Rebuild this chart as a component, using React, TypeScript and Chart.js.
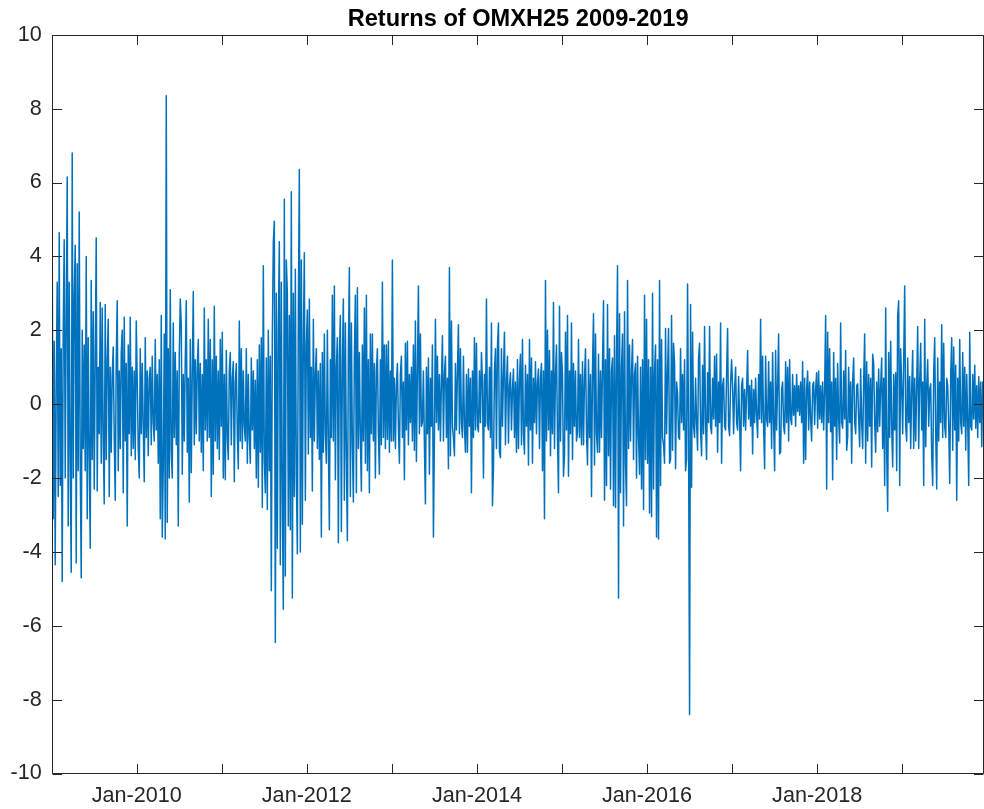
import React, { useEffect, useRef } from "react";
import { Chart, registerables } from "chart.js";

Chart.register(...registerables);

// Daily log-returns (%) of OMXH25 (≈ one value every few trading days)
const years = [2009, 2010, 2011, 2012, 2013, 2014, 2015, 2016, 2017, 2018, 2019];
const samplesPerYear = 85;

const ret2009 = [4.2, -3.1, 1.7, -4.35, 0.5, 3.3, -2.5, 4.65, -2.2, 1.5,
  -4.8, 2.0, 4.45, -2.0, 2.3, 6.15, -3.3, 3.3, -1.5, -4.55,
  6.8, -2.0, 2.9, 4.3, -4.3, 3.8, -1.8, 5.2, -1.5, -4.7,
  2.0, -1.2, 1.6, -1.8, 4.0, -3.1, 1.8, -1.3, -3.9, 3.35,
  -1.5, 2.5, -2.3, 1.2, 4.5, -2.35, 1.0, -0.8, 2.75, -1.6,
  2.6, -1.0, -2.7, 2.7, -1.5, 1.2, 2.3, -2.5, 1.0, -1.3,
  0.8, 1.55, -0.9, -2.6, 1.2, 2.8, -1.8, 0.9, -1.2, 1.4,
  2.0, -2.4, 2.35, -1.0, 1.1, -3.3, 1.6, -0.8, 2.35, -1.4,
  1.0, -1.2, 0.9, -1.5, 2.25];
const ret2010 = [0.6, -1.2, -2.0, 1.5, -0.8, 1.1, -0.6, -2.1, 1.8, -0.9,
  0.9, -1.4, 0.7, 1.0, -1.1, 1.3, -0.5, -1.0, 1.75, -0.7,
  0.8, -1.6, 1.2, -3.1, 2.4, -3.6, -1.7, 1.9, -3.65, 8.35,
  -3.2, 1.5, -2.0, 3.1, -1.3, -2.0, 2.2, -0.9, 1.4, -1.1,
  0.9, -3.3, 1.3, 2.85, 2.15, -1.9, 0.8, -1.0, 1.2, 2.8,
  -1.3, 0.7, -2.65, 1.75, -1.85, 0.9, 3.05, -1.1, 1.2, -0.8,
  1.0, 1.75, -1.0, 1.1, -1.3, 0.8, -1.8, 2.6, -0.7, 1.2,
  -1.0, 2.3, -0.9, 1.75, -2.5, 1.2, -1.9, 2.65, -1.0, 1.3,
  -1.2, 0.9, -1.5, 1.75, -0.6];
const ret2011 = [1.95, -2.0, 0.8, -2.05, 1.45, -0.9, -1.5, 0.9, 1.4, -1.1,
  0.7, 1.15, -2.1, 0.6, 1.1, -0.8, -1.75, 2.25, -1.0, 1.5,
  -1.2, 0.9, -0.6, -1.0, 1.5, -1.6, 0.8, -0.9, -1.6, 1.25,
  -0.7, 0.9, -1.2, 0.65, -2.0, 1.2, -2.25, 1.6, -1.3, 1.8,
  -2.8, 3.75, -1.5, -2.4, 1.25, -2.85, 2.0, -1.8, 1.3, -5.05,
  1.85, 4.4, 4.95, -6.45, 3.0, -3.9, 2.0, 4.4, -4.35, 3.3,
  -2.6, -5.55, 5.55, -4.65, 3.9, 3.0, -3.3, 2.4, -3.4, 5.75,
  -5.25, 3.0, -2.5, 3.65, -1.9, -4.05, 2.5, 6.35, -4.0, 3.9,
  -3.25, 1.8, 4.1, -2.6, 1.6];
const ret2012 = [2.55, -1.35, 2.85, -0.9, 1.0, -2.35, 2.3, -1.0, 0.8, 1.5,
  -1.2, 0.9, -1.5, 1.1, -3.6, 1.4, -1.3, 1.9, -0.8, -1.6,
  2.0, -1.0, -3.4, 1.2, -0.9, 2.95, -1.0, 3.2, -2.05, 1.0,
  1.8, -3.75, 1.3, 2.4, -3.45, 1.1, 2.85, -2.6, 2.2, -1.4,
  -3.7, 1.5, 3.7, -2.5, 2.2, -1.1, -2.65, 1.3, 2.95, -2.4,
  3.15, -1.2, 1.4, -0.9, -2.35, 1.6, -1.0, 2.6, -1.6, 2.95,
  -1.8, 1.2, -2.4, 1.9, -0.8, 1.9, -1.0, 1.1, -2.0, 0.9,
  1.5, -0.8, -1.9, 1.2, -1.1, 3.3, -0.9, 1.6, -1.2, 1.6,
  -0.95, 1.7, -1.3, 0.9, -1.0];
const ret2013 = [3.9, -1.0, 0.7, -1.2, 0.5, 1.1, -0.6, -1.6, 0.8, 1.3,
  -0.9, 0.6, -2.05, 1.65, -0.7, 1.7, -1.1, 0.8, -0.5, 1.0,
  -1.0, 1.6, -1.25, 2.25, -1.55, 0.9, 3.2, -0.8, 1.9, -0.6,
  -0.5, 0.9, -1.1, -2.7, 1.0, -0.8, 1.25, -1.9, 0.7, -0.6,
  1.6, -3.6, -0.9, 2.3, -0.5, 1.3, -0.7, 0.8, -1.0, 0.6,
  1.85, -1.0, 0.8, 1.3, -0.9, 0.7, -1.75, 3.7, -1.4, 2.25,
  -0.6, -0.9, -1.4, 1.1, -0.7, 0.9, 2.15, -0.8, 1.5, -0.5,
  -0.9, 1.3, -0.6, -1.3, 0.8, -1.3, 0.95, -0.6, 0.7, -2.4,
  0.9, -0.9, 1.8, -0.7, 1.65];
const ret2014 = [-0.6, -0.75, 0.9, -0.5, 1.4, 0.6, -2.0, 0.8, -0.6, 2.85,
  -0.5, -0.7, 1.0, -0.9, 2.2, -2.75, -1.75, 0.9, 1.5, -1.2,
  1.55, 2.2, -1.3, -1.45, 1.5, -0.6, 0.8, 1.95, -1.1, 0.6,
  1.3, -1.05, 0.5, 0.85, -0.7, 0.4, 0.95, -0.9, 0.6, -1.3,
  1.2, -1.2, 0.7, 1.35, -1.1, 1.75, -0.8, -1.35, 1.05, -0.6,
  0.8, -1.65, 1.75, -0.7, 1.25, -1.6, 0.7, -0.5, 1.15, -0.8,
  0.6, 0.95, -1.2, 0.7, 1.1, -1.8, 0.9, -3.1, 3.35, -1.0,
  2.0, -0.7, 1.45, -1.4, 0.9, -0.8, 2.75, -1.2, 0.8, 1.6,
  -0.9, -2.4, 2.65, -1.0, 1.4];
const ret2015 = [0.8, -1.95, -1.4, 1.95, -0.7, 2.4, -1.95, 0.9, -0.8, 2.2,
  -1.5, 1.1, -0.6, 0.9, -1.0, -0.75, 1.75, -0.9, 0.8, -1.1,
  1.15, -1.1, 0.7, 1.5, -0.8, -1.65, 1.2, -0.9, 0.8, -2.5,
  1.0, 2.45, -1.65, 1.9, -0.8, -1.3, 1.35, -1.3, 0.9, -0.9,
  1.1, 2.8, -2.6, 1.2, -2.2, 2.7, -1.4, 1.5, -2.3, 0.9,
  1.25, -2.75, 1.85, -2.8, 1.2, 3.75, -5.25, 2.45, -2.4, 1.0,
  1.9, -3.3, 2.5, -1.6, -2.75, 3.35, -1.2, 1.6, -1.0, 0.9,
  1.75, -1.5, 0.8, 1.1, -2.0, 1.3, -0.9, -1.9, 1.0, -2.3,
  1.2, -2.85, 2.95, -1.5, 2.3];
const ret2016 = [-1.6, 1.2, -2.95, 1.0, -3.05, 3.0, -2.3, 0.9, 1.6, -3.6,
  1.2, -3.65, 3.35, -2.2, 1.75, -0.9, -1.1, -1.6, 2.05, -0.8,
  0.9, 2.05, -1.6, -1.5, 2.4, -1.25, 1.65, 1.1, -1.75, 0.6,
  0.3, -0.9, -0.95, 1.5, -0.5, 0.8, -0.7, 1.2, -1.8, -1.5,
  3.25, -0.8, -8.4, 2.7, -2.25, 1.95, -0.6, -0.9, 0.7, -0.5,
  -1.25, 1.25, 1.65, -0.7, -1.4, 1.05, -0.8, 2.1, -0.5, -1.5,
  0.85, -0.5, 2.1, -0.6, -0.8, 0.7, -0.4, 1.3, -0.6, 1.35,
  -1.3, 0.6, -0.5, 2.2, -1.6, 0.5, 0.7, -0.6, -0.7, 0.8,
  2.05, -0.6, -0.85, 0.55, 1.2];
const ret2017 = [0.5, -0.8, 0.4, 1.0, -0.5, -0.7, 0.75, -0.4, -1.8, 0.5,
  0.7, -0.6, 0.4, -0.7, 0.3, 1.45, -0.4, 0.5, -0.6, 0.65,
  -1.35, 0.4, -0.5, 0.7, -0.3, -0.9, 0.8, -0.4, 2.3, -0.5,
  1.3, -0.6, -1.75, 1.3, -0.4, -0.6, 1.15, -0.5, 0.6, -1.2,
  1.4, -0.5, -1.8, 1.45, -0.7, 0.5, 1.9, -1.35, -1.3, 0.4,
  0.6, -0.6, -0.8, 1.15, -0.5, 1.0, -1.0, 1.2, -0.4, -0.55,
  0.8, -0.3, 0.5, -0.6, 0.8, -0.2, 0.5, -0.3, 0.6, -0.5,
  1.15, -1.6, 0.7, -1.5, 0.4, 0.9, -0.7, 0.6, -0.4, -1.0,
  0.5, 0.6, -0.55, 0.4, 0.85];
const ret2018 = [-0.65, 0.9, -0.4, 0.5, -0.5, 0.6, -0.7, 0.4, 2.4, -2.3,
  1.95, -0.5, 1.5, -0.75, 0.6, -2.05, 1.4, -0.6, 0.7, -1.5,
  1.1, -0.4, -1.05, 2.2, -0.5, -0.65, 0.9, -0.4, 1.45, -1.25,
  -0.9, 1.0, -0.5, 0.6, -1.6, 0.6, 1.25, -0.5, -0.8, 0.5,
  0.55, -0.4, -1.15, 0.95, -0.5, -1.2, 0.6, 1.9, -1.6, 1.15,
  -1.0, 0.8, -0.6, 0.7, -1.7, 1.35, 1.1, -0.5, -1.3, 0.6,
  -0.75, 0.95, -0.6, 0.5, 1.25, -1.2, 0.7, -2.2, 2.6, -1.3,
  -2.9, 1.4, -0.9, 1.7, -0.6, -1.7, 0.8, -0.7, 0.85, -1.8,
  2.4, 2.8, -2.2, 1.5, 0.5];
const ret2019 = [-0.8, 1.2, 3.2, -0.6, -1.0, 1.25, -0.5, 0.75, -1.2, 0.4,
  1.45, -1.2, 0.7, -1.0, 0.5, 2.1, -1.2, 0.6, 1.65, -0.7,
  0.6, -2.2, 2.3, -1.15, 0.5, 1.2, -0.6, 0.4, 0.55, -1.4,
  -2.2, 0.9, 1.8, -0.8, -2.3, 1.25, -1.0, 0.6, -0.5, 2.15,
  -0.9, 1.65, -0.6, -0.9, 0.7, 0.5, -0.6, -2.15, 0.8, 1.8,
  -1.25, 1.55, -0.7, 1.05, -2.6, 0.7, -1.0, 1.75, -0.5, -0.8,
  1.4, -0.6, 1.0, -1.25, 0.8, -0.5, -2.2, 1.95, -0.6, -0.7,
  0.8, -0.4, 1.05, -0.65, 0.5, -0.9, 0.75, -0.5, 0.6, -1.15,
  0.6, -0.3];

const returnsByYear = [ret2009, ret2010, ret2011, ret2012, ret2013, ret2014,
  ret2015, ret2016, ret2017, ret2018, ret2019];

const xStart = 2009.007;
const xEnd = 2019.962;
const yTicks = [-10, -8, -6, -4, -2, 0, 2, 4, 6, 8, 10];
const titleText = "Returns of OMXH25 2009-2019";

const FONT = '"Liberation Sans", Arial, Helvetica, sans-serif';
const AXIS_COLOR = "#262626";

const matlabAxes = {
  id: "matlabAxes",
  afterDatasetsDraw(chart: any) {
    const { ctx, chartArea, scales } = chart;
    const { left, right, top, bottom } = chartArea;
    const L = Math.round(left) + 0.5;
    const R = Math.round(right) - 0.5;
    const T = Math.round(top) + 0.5;
    const B = Math.round(bottom) - 0.5;
    const tl = 9.5;
    ctx.save();
    ctx.strokeStyle = AXIS_COLOR;
    ctx.lineWidth = 1;
    ctx.beginPath();
    ctx.moveTo(L, T); ctx.lineTo(R, T); ctx.lineTo(R, B); ctx.lineTo(L, B); ctx.closePath();
    ctx.stroke();
    ctx.beginPath();
    for (const t of scales.y.ticks) {
      const py = Math.round(scales.y.getPixelForValue(t.value)) + 0.5;
      ctx.moveTo(L, py); ctx.lineTo(L + tl, py);
      ctx.moveTo(R, py); ctx.lineTo(R - tl, py);
    }
    for (const t of scales.x.ticks) {
      const px = Math.round(scales.x.getPixelForValue(t.value)) + 0.5;
      ctx.moveTo(px, B); ctx.lineTo(px, B - tl);
      ctx.moveTo(px, T); ctx.lineTo(px, T + tl);
    }
    ctx.stroke();
    ctx.fillStyle = "#000";
    ctx.font = `bold 23.6px ${FONT}`;
    ctx.textAlign = "center";
    ctx.textBaseline = "alphabetic";
    ctx.fillText(titleText, (left + right) / 2, 26);
    ctx.restore();
  },
};

export default function App() {
  const ref = useRef<HTMLCanvasElement | null>(null);
  useEffect(() => {
    if (!ref.current) return;
    const points = years.flatMap((yr, k) =>
      returnsByYear[k].map((v, i) => ({ x: yr + (i + 0.5) / samplesPerYear, y: v }))
    );
    const chart = new Chart(ref.current, {
      type: "line",
      data: {
        datasets: [
          {
            data: points,
            borderColor: "#0072BD",
            borderWidth: 1.5,
            borderJoinStyle: "round",
            pointRadius: 0,
            fill: false,
            tension: 0,
          },
        ],
      },
      options: {
        animation: false,
        responsive: false,
        layout: { padding: { top: 34.8, right: 0, left: 0, bottom: 0 } },
        plugins: {
          legend: { display: false },
          tooltip: { enabled: false },
          title: { display: false },
        },
        scales: {
          x: {
            type: "linear",
            min: xStart,
            max: xEnd,
            grid: { display: false, drawTicks: false },
            border: { display: false },
            afterBuildTicks: (s: any) => {
              s.ticks = years.map((v) => ({ value: v }));
            },
            afterFit: (s: any) => {
              s.height = 35.5;
            },
            ticks: {
              autoSkip: false,
              maxRotation: 0,
              minRotation: 0,
              padding: 10,
              color: AXIS_COLOR,
              font: { family: FONT, size: 21.6 },
              callback: (v: any) => (Number(v) % 2 === 0 ? "Jan-" + v : ""),
            },
          },
          y: {
            type: "linear",
            min: -10,
            max: 10,
            grid: { display: false, drawTicks: false },
            border: { display: false },
            afterBuildTicks: (s: any) => {
              s.ticks = yTicks.map((v) => ({ value: v }));
            },
            afterFit: (s: any) => {
              s.width = 52.3;
            },
            ticks: {
              padding: 10.5,
              color: AXIS_COLOR,
              font: { family: FONT, size: 21.6 },
              callback: (v: any) => String(v),
            },
          },
        },
      },
      plugins: [matlabAxes],
    });
    return () => chart.destroy();
  }, []);
  return (
    <div style={{ position: "absolute", left: 0, top: 0, width: 984, height: 809, background: "#fff" }}>
      <canvas ref={ref} width={984} height={809} />
    </div>
  );
}
